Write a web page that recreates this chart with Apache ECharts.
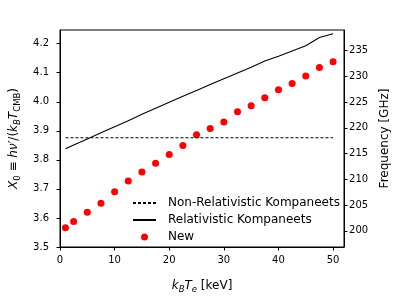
<!DOCTYPE html>
<html>
<head>
<meta charset="utf-8">
<script src="https://cdn.jsdelivr.net/npm/echarts@6/dist/echarts.min.js"></script>
<style>
  html, body { margin: 0; padding: 0; background: #fff; }
  #chart { width: 399px; height: 299px; }
</style>
</head>
<body>
<div id="chart"></div>
<script>
// electron temperature k_B T_e [keV]
const tempKeV = [1, 2.5, 5, 7.5, 10, 12.5, 15, 17.5, 20, 22.5, 25, 27.5, 30, 32.5, 35, 37.5, 40, 42.5, 45, 47.5, 50]
// X0 values
const newX0 = [3.566, 3.588, 3.620, 3.651, 3.690, 3.727, 3.758, 3.788, 3.818, 3.849, 3.886, 3.908, 3.930, 3.966, 3.986, 4.014, 4.041, 4.063, 4.089, 4.118, 4.138]
const relX0 = [3.838, 3.851, 3.872, 3.893, 3.914, 3.935, 3.957, 3.978, 3.998, 4.019, 4.039, 4.059, 4.079, 4.099, 4.119, 4.140, 4.157, 4.175, 4.193, 4.221, 4.234]
const nonRelT = [1, 50]
const nonRelX0 = [3.876, 3.876]
// tick labels
const leftTicks = [3.5, 3.6, 3.7, 3.8, 3.9, 4.0, 4.1, 4.2]
const freqTicks = [200, 205, 210, 215, 220, 225, 230, 235]
const xTicks = [0, 10, 20, 30, 40, 50]

const font = 'DejaVu Sans'
const pair = (xs, ys) => xs.map((x, i) => [x, ys[i]])

const nameRich = {
  i: { fontFamily: font, fontSize: 12, fontStyle: 'italic', color: '#000', lineHeight: 16 },
  n: { fontFamily: font, fontSize: 12, color: '#000', lineHeight: 16 },
  sub: { fontFamily: font, fontSize: 8.5, color: '#000', lineHeight: 16, verticalAlign: 'bottom', padding: [4, 0, 0, 0] },
  isub: { fontFamily: font, fontSize: 8.5, fontStyle: 'italic', color: '#000', lineHeight: 16, verticalAlign: 'bottom', padding: [4, 0, 0, 0] }
}

const chart = echarts.init(document.getElementById('chart'))
chart.setOption({
  animation: false,
  backgroundColor: '#fff',
  grid: { left: 60, right: 48, top: 30, bottom: 45, show: true, borderColor: '#000', borderWidth: 1 },
  legend: {
    orient: 'vertical',
    left: 127,
    top: 192,
    itemWidth: 23,
    itemHeight: 7,
    itemGap: 5,
    textStyle: { fontFamily: font, fontSize: 12, color: '#000', padding: [0, 0, 0, 7] },
    data: [
      { name: 'Non-Relativistic Kompaneets', itemStyle: { opacity: 0 } },
      { name: 'Relativistic Kompaneets', itemStyle: { opacity: 0 } },
      { name: 'New' }
    ]
  },
  xAxis: {
    type: 'value',
    min: 0,
    max: 52,
    splitLine: { show: false },
    axisLine: { lineStyle: { color: '#000', width: 1 } },
    axisTick: { length: 3.5, lineStyle: { color: '#000' }, customValues: xTicks },
    axisLabel: { fontFamily: font, fontSize: 10, color: '#000', margin: 8, customValues: xTicks },
    name: '{i|k}{isub|B}{i|T}{isub|e}{n| [keV]}',
    nameLocation: 'middle',
    nameGap: 31,
    nameTextStyle: { rich: nameRich }
  },
  yAxis: [
    {
      type: 'value',
      min: 3.5,
      max: 4.247,
      splitLine: { show: false },
      axisLine: { show: true, lineStyle: { color: '#000', width: 1 } },
      axisTick: { show: true, length: 3.5, lineStyle: { color: '#000' }, customValues: leftTicks },
      axisLabel: { fontFamily: font, fontSize: 10, color: '#000', margin: 11, formatter: v => v.toFixed(1), customValues: leftTicks },
      name: '{i|X}{sub|0}{n| ≡ }{i|hν′}{n|/(}{i|k}{isub|B}{i|T}{sub|CMB}{n|)}',
      nameLocation: 'middle',
      nameRotate: 90,
      nameGap: 36,
      nameTextStyle: { rich: nameRich }
    },
    {
      type: 'value',
      position: 'right',
      min: 196.86,
      max: 239.0,
      splitLine: { show: false },
      axisLine: { show: true, lineStyle: { color: '#000', width: 1 } },
      axisTick: { show: true, length: 3.5, lineStyle: { color: '#000' }, customValues: freqTicks },
      axisLabel: { fontFamily: font, fontSize: 10, color: '#000', margin: 5, customValues: freqTicks },
      name: 'Frequency [GHz]',
      nameLocation: 'middle',
      nameRotate: 90,
      nameGap: 32,
      nameTextStyle: { fontFamily: font, fontSize: 12, color: '#000' }
    }
  ],
  series: [
    {
      name: 'Non-Relativistic Kompaneets',
      type: 'line',
      data: pair(nonRelT, nonRelX0),
      symbol: 'none',
      color: '#000',
      lineStyle: { color: '#000', width: 1.1, type: [3, 2] }
    },
    {
      name: 'Relativistic Kompaneets',
      type: 'line',
      data: pair(tempKeV, relX0),
      symbol: 'none',
      color: '#000',
      lineStyle: { color: '#000', width: 1.1 }
    },
    {
      name: 'New',
      type: 'scatter',
      data: pair(tempKeV, newX0),
      symbol: 'circle',
      symbolSize: 7,
      itemStyle: { color: '#ff0000', opacity: 1 }
    }
  ]
})
</script>
</body>
</html>
